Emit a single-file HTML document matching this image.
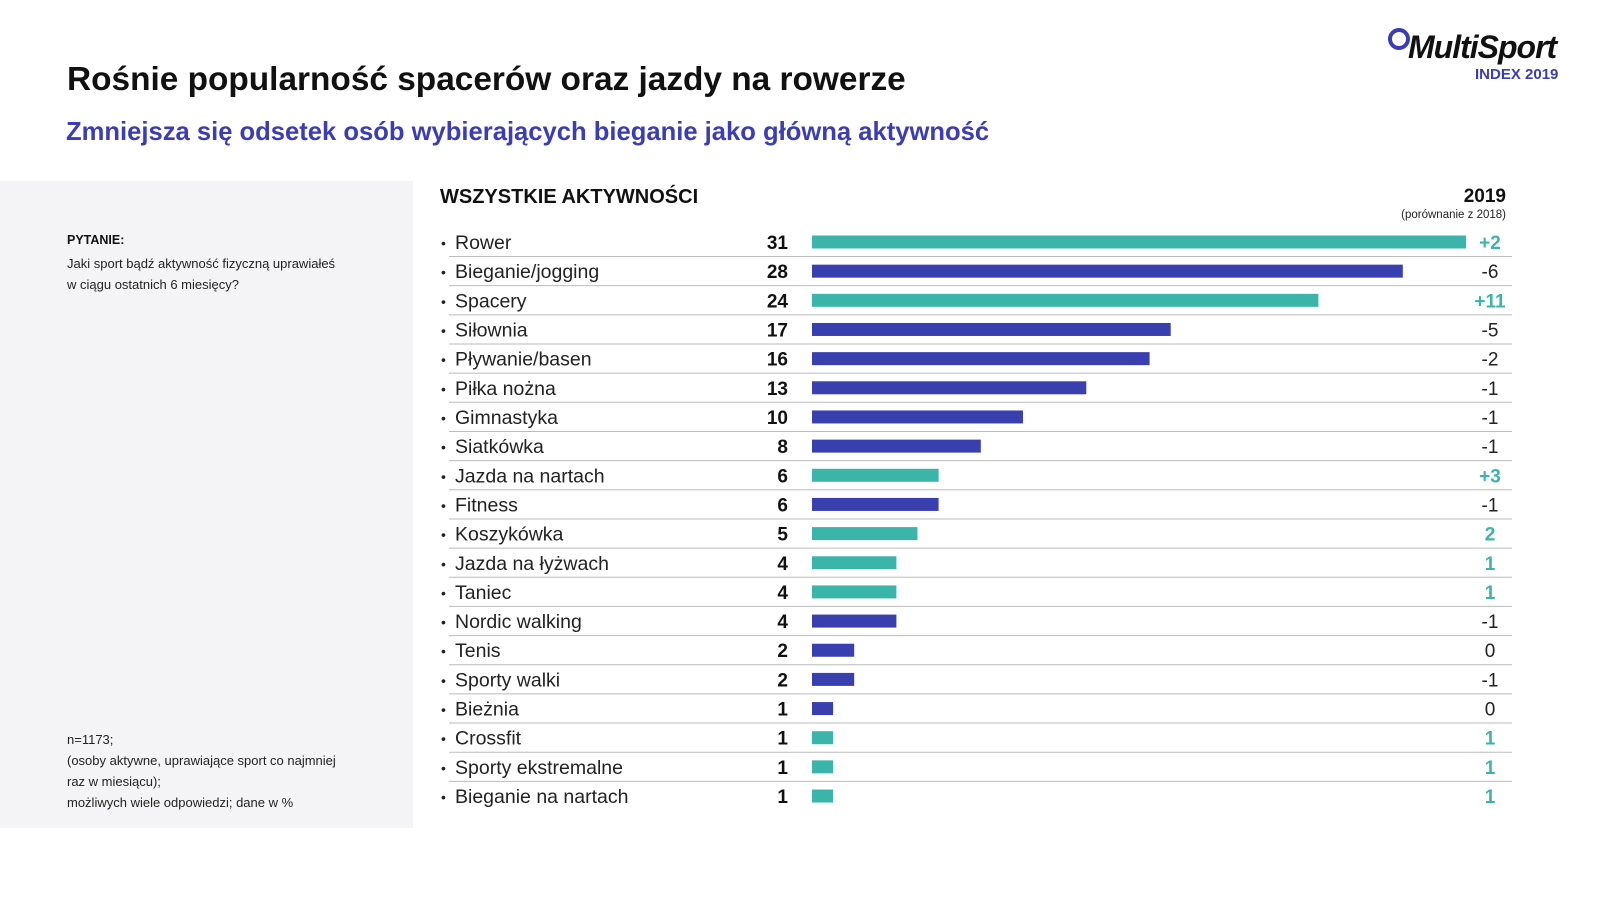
<!DOCTYPE html>
<html><head><meta charset="utf-8"><style>
body{margin:0;width:1600px;height:900px;background:#fff;font-family:"Liberation Sans",sans-serif;position:relative;overflow:hidden}
.abs{position:absolute}
</style></head><body>
<div class="abs" style="left:67px;top:61px;font-size:33.4px;font-weight:bold;color:#111">Rośnie popularność spacerów oraz jazdy na rowerze</div>
<div class="abs" style="left:66px;top:118px;font-size:25.6px;font-weight:bold;color:#3c3cb4">Zmniejsza się odsetek osób wybierających bieganie jako główną aktywność</div>
<div class="abs" style="left:1388px;top:26px;width:200px;height:60px">
 <div class="abs" style="left:0;top:2px;width:14px;height:14px;border:4px solid #3c3cb4;border-radius:50%"></div>
 <div class="abs" style="left:20px;top:3px;font-size:32px;font-weight:bold;font-style:italic;color:#111;letter-spacing:-1px">MultiSport</div>
 <div class="abs" style="left:87px;top:40px;font-size:15px;font-weight:bold;color:#3c3cb4">INDEX 2019</div>
</div>
<div class="abs" style="left:0;top:181px;width:413px;height:647px;background:#f4f4f6">
 <div class="abs" style="left:67px;top:52px;font-size:12.5px;font-weight:bold;color:#111">PYTANIE:</div>
 <div class="abs" style="left:67px;top:72px;font-size:13px;line-height:21px;color:#222">Jaki sport bądź aktywność fizyczną uprawiałeś<br>w ciągu ostatnich 6 miesięcy?</div>
 <div class="abs" style="left:67px;top:548px;font-size:13px;line-height:21px;color:#222">n=1173;<br>(osoby aktywne, uprawiające sport co najmniej<br>raz w miesiącu);<br>możliwych wiele odpowiedzi; dane w %</div>
</div>
<div class="abs" style="left:440px;top:186px;font-size:20px;font-weight:bold;color:#111">WSZYSTKIE AKTYWNOŚCI</div>
<div class="abs" style="left:1396px;top:186px;width:110px;text-align:right;font-size:19px;font-weight:bold;color:#111">2019</div>
<div class="abs" style="left:1374px;top:209px;width:132px;text-align:right;font-size:11.5px;color:#222">(porównanie z 2018)</div>
<svg class="abs" style="left:0;top:0" width="1600" height="900" id="chart"></svg>
<script>
const categories=["Rower","Bieganie/jogging","Spacery","Siłownia","Pływanie/basen","Piłka nożna","Gimnastyka","Siatkówka","Jazda na nartach","Fitness","Koszykówka","Jazda na łyżwach","Taniec","Nordic walking","Tenis","Sporty walki","Bieżnia","Crossfit","Sporty ekstremalne","Bieganie na nartach"];
const values=[31,28,24,17,16,13,10,8,6,6,5,4,4,4,2,2,1,1,1,1];
const changes=["+2","-6","+11","-5","-2","-1","-1","-1","+3","-1","2","1","1","-1","0","-1","0","1","1","1"];
const highlight=[1,0,1,0,0,0,0,0,1,0,1,1,1,0,0,0,0,1,1,1];
const svg=document.getElementById('chart');const NS='http://www.w3.org/2000/svg';
const x0=812,unit=21.1,y0=242,step=29.16;
const xs=v=>v*unit, ys=i=>y0+i*step;
function mk(t,a){const e=document.createElementNS(NS,t);for(const k in a)e.setAttribute(k,a[k]);svg.appendChild(e);return e;}
categories.forEach((c,i)=>{
 const y=ys(i);const col=highlight[i]?'#3bb5aa':'#3a3fb0';
 if(i<categories.length-1){const l=mk('line',{x1:449,x2:1512,y1:y+14.5,y2:y+14.5,stroke:'#bbb','stroke-width':1});
 }
 const bu=mk('text',{x:441,y:y+6,'font-size':14,fill:'#222','font-family':'Liberation Sans, sans-serif'});bu.textContent='•';
 
 const t=mk('text',{x:455,y:y+7,'font-size':19.5,fill:'#222','font-family':'Liberation Sans, sans-serif'});t.textContent=c;
 
 const v=mk('text',{x:788,y:y+7,'font-size':19,'font-weight':'bold','text-anchor':'end',fill:'#111','font-family':'Liberation Sans, sans-serif'});v.textContent=values[i];
 
 const b=mk('rect',{x:x0,y:y-6.5,width:xs(values[i]),height:13,fill:col});
 
 const d=mk('text',{x:1490,y:y+7,'font-size':19,'text-anchor':'middle','font-weight':highlight[i]?'bold':'normal',fill:highlight[i]?'#3bb5aa':'#222','font-family':'Liberation Sans, sans-serif'});d.textContent=changes[i];
 
});
</script>
</body></html>
